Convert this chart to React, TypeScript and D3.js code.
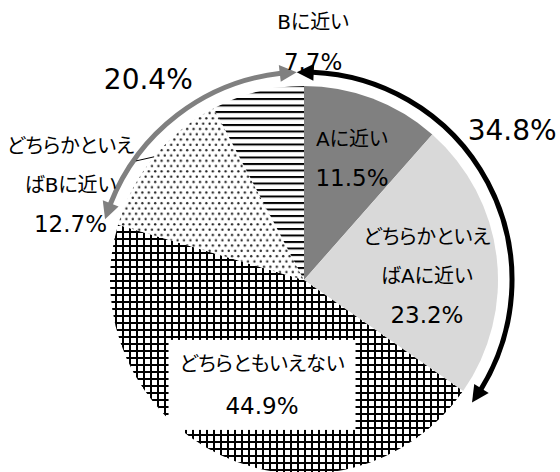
import { useEffect, useRef } from 'react';
import * as d3 from 'd3';

// slices, clockwise from 12 o'clock
const categories = ['Aに近い', 'どちらかといえばAに近い', 'どちらともいえない', 'どちらかといえばBに近い', 'Bに近い'];
const values = [11.5, 23.2, 44.9, 12.7, 7.7];
const labelLines = [['Aに近い'], ['どちらかといえ', 'ばAに近い'], ['どちらともいえない'], ['どちらかといえ', 'ばBに近い'], ['Bに近い']];
const sideGroups = [[0, 1], [3, 4]];
const sideTotals = ['34.8%', '20.4%'];

const FONT = '"DejaVu Sans", "Noto Sans CJK JP", sans-serif';

export default function App() {
  const svgRef = useRef<SVGSVGElement | null>(null);

  useEffect(() => {
    const svg = svgRef.current;
    if (!svg) return;

    const width = 560;
    const height = 472;
    const cx = 304;
    const cy = 280;
    const r = 194;
    const R = 208;
    const rad = (deg: number) => (deg * Math.PI) / 180;
    const pt = (a: number, rr: number): [number, number] => [cx + rr * Math.sin(a), cy - rr * Math.cos(a)];

    const fills = ['#808080', '#d9d9d9', 'url(#grid)', 'url(#dots)', 'url(#hlines)'];
    // label block centre in polar form (deg, radius) and line spacing
    const labelPos = [
      { a: 21.5, r: 131, gap: 39 },
      { a: 88, r: 123, gap: 39 },
      { a: 201.8, r: 113, gap: 42 },
      { a: 292.1, r: 252, gap: 39 },
      { a: 2.2, r: 238, gap: 40 }
    ];

    const root = d3.select(svg);
    root.attr('viewBox', `0 0 ${width} ${height}`);
    root.selectAll('*').remove();

    const defs = root.append('defs');
    const hl = defs.append('pattern').attr('id', 'hlines').attr('patternUnits', 'userSpaceOnUse')
      .attr('width', 8).attr('height', 6.5);
    hl.append('rect').attr('width', 8).attr('height', 6.5).attr('fill', '#fff');
    hl.append('rect').attr('y', 0).attr('width', 8).attr('height', 2).attr('fill', '#000');

    const dt = defs.append('pattern').attr('id', 'dots').attr('patternUnits', 'userSpaceOnUse')
      .attr('width', 6.4).attr('height', 10.6);
    dt.append('rect').attr('width', 6.4).attr('height', 10.6).attr('fill', '#fff');
    dt.append('circle').attr('cx', 1.6).attr('cy', 2.65).attr('r', 1.15).attr('fill', '#222');
    dt.append('circle').attr('cx', 4.8).attr('cy', 7.95).attr('r', 1.15).attr('fill', '#222');

    const gr = defs.append('pattern').attr('id', 'grid').attr('patternUnits', 'userSpaceOnUse')
      .attr('width', 7).attr('height', 7);
    gr.append('rect').attr('width', 7).attr('height', 7).attr('fill', '#fff');
    gr.append('rect').attr('width', 2).attr('height', 7).attr('fill', '#000');
    gr.append('rect').attr('width', 7).attr('height', 2).attr('fill', '#000');

    const pie = d3.pie<number>().sort(null).value((d) => d);
    const arcs = pie(values);
    const arc = d3.arc<d3.PieArcDatum<number>>().innerRadius(0).outerRadius(r);

    const g = root.append('g').attr('transform', `translate(${cx},${cy})`);
    g.selectAll('path.slice')
      .data(arcs)
      .join('path')
      .attr('class', 'slice')
      .attr('d', arc as any)
      .attr('fill', (_, i) => fills[i]);

    // side arrows
    const meet = rad(-2);
    const arrowSpans = [
      { a0: meet, a1: arcs[sideGroups[0][1]].endAngle + rad(1.2), color: '#000' },
      { a0: arcs[sideGroups[1][0]].startAngle + rad(0.4), a1: 2 * Math.PI + meet, color: '#808080' }
    ];
    const headLen = 17;
    const headHalf = 8.5;
    arrowSpans.forEach((s) => {
      const da = headLen / R;
      const p = d3.path();
      const start = s.a0 + da - 0.005;
      const end = s.a1 - da + 0.005;
      const [sx, sy] = pt(start, R);
      p.moveTo(sx, sy);
      p.arc(cx, cy, R, start - Math.PI / 2, end - Math.PI / 2, false);
      root.append('path').attr('d', p.toString()).attr('fill', 'none')
        .attr('stroke', s.color).attr('stroke-width', 5);
      [
        [s.a0, s.a0 + da],
        [s.a1, s.a1 - da]
      ].forEach(([tip, base]) => {
        const pts = [pt(tip, R), pt(base, R - headHalf), pt(base, R + headHalf)];
        root.append('polygon').attr('points', pts.map((q) => q.join(',')).join(' ')).attr('fill', s.color);
      });
    });

    // white box behind the big slice label
    const boxC = pt(rad(labelPos[2].a), labelPos[2].r);
    root.append('rect')
      .attr('x', boxC[0] - 93.5)
      .attr('y', boxC[1] - 45)
      .attr('width', 187)
      .attr('height', 90)
      .attr('fill', '#fff');

    // leader line for the outside label
    const dotMid = (arcs[3].startAngle + arcs[3].endAngle) / 2;
    const l0 = pt(dotMid, r);
    const l1 = pt(rad(305.3), 206);
    root.append('line').attr('x1', l0[0]).attr('y1', l0[1]).attr('x2', l1[0]).attr('y2', l1[1])
      .attr('stroke', '#000').attr('stroke-width', 1);

    // slice labels: text lines a bit smaller than the percentage line
    arcs.forEach((d, i) => {
      const lines = [...labelLines[i], `${values[i].toFixed(1)}%`];
      const lp = labelPos[i];
      const [x, y] = pt(rad(lp.a), lp.r);
      const y0 = y - ((lines.length - 1) * lp.gap) / 2;
      const t = root.append('text')
        .attr('font-family', FONT)
        .attr('fill', '#000')
        .attr('text-anchor', 'middle')
        .attr('dominant-baseline', 'central')
        .style('font-feature-settings', '"palt"');
      lines.forEach((ln, k) => {
        const isPct = k === lines.length - 1;
        t.append('tspan')
          .attr('x', x)
          .attr('y', y0 + k * lp.gap)
          .attr('font-size', isPct ? 23 : 20)
          .text(ln);
      });
    });

    // side totals
    const totalPos = [
      { a: 54.4, r: 256 },
      { a: 322.2, r: 254 }
    ];
    sideTotals.forEach((txt, i) => {
      const [x, y] = pt(rad(totalPos[i].a), totalPos[i].r);
      root.append('text')
        .attr('x', x)
        .attr('y', y)
        .attr('font-family', FONT)
        .attr('font-size', 28)
        .attr('fill', '#000')
        .attr('text-anchor', 'middle')
        .attr('dominant-baseline', 'central')
        .text(txt);
    });
  }, []);

  return (
    <svg
      ref={svgRef}
      width={560}
      height={472}
      style={{ position: 'absolute', left: 0, top: 0, background: '#fff' }}
    >
      <title>{categories.join(' / ')}</title>
    </svg>
  );
}
